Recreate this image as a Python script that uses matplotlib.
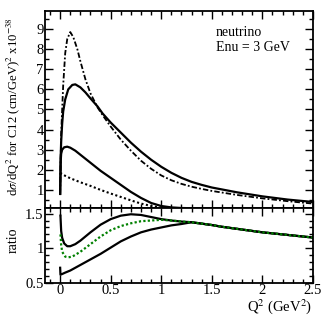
import numpy as np
import matplotlib
matplotlib.use('Agg')
import matplotlib.pyplot as plt
from matplotlib.ticker import MultipleLocator, FormatStrFormatter

plt.rcParams['font.family'] = ['Liberation Serif', 'DejaVu Serif']
plt.rcParams['mathtext.fontset'] = 'stix'

# top panel: d sigma / dQ2
q_dashdot = [0, 0.005, 0.01, 0.02, 0.03, 0.05, 0.07, 0.1, 0.13, 0.17, 0.2, 0.25, 0.3, 0.37,
             0.42, 0.5, 0.6, 0.7, 0.8, 0.9, 1.0, 1.1, 1.2, 1.3, 1.4, 1.5, 1.75, 2.0, 2.25, 2.5]
v_dashdot = [0.8, 2.5, 3.8, 5.0, 6.2, 7.8, 8.5, 8.85, 8.6, 8.0, 7.4, 6.5, 5.8, 5.1,
             4.72, 4.15, 3.5, 2.95, 2.45, 2.05, 1.72, 1.48, 1.3, 1.16, 1.05, 0.95, 0.75, 0.58,
             0.44, 0.32]

q_big = [0, 0.005, 0.01, 0.02, 0.03, 0.05, 0.08, 0.12, 0.15, 0.2, 0.25, 0.3, 0.37, 0.42,
         0.5, 0.6, 0.7, 0.8, 0.9, 1.0, 1.1, 1.2, 1.3, 1.4, 1.5, 1.75, 2.0, 2.25, 2.5]
v_big = [0.8, 2.6, 3.4, 4.3, 4.9, 5.5, 6.0, 6.22, 6.25, 6.1, 5.85, 5.55, 5.15, 4.8,
         4.35, 3.85, 3.35, 2.9, 2.5, 2.15, 1.85, 1.6, 1.4, 1.25, 1.12, 0.88, 0.68, 0.52, 0.4]

q_small = [0, 0.005, 0.01, 0.02, 0.04, 0.07, 0.1, 0.15, 0.2, 0.3, 0.4, 0.5, 0.6, 0.7,
           0.8, 0.9, 1.0, 1.1, 1.2, 1.4, 2.5]
v_small = [0.8, 2.4, 2.8, 3.0, 3.12, 3.15, 3.1, 2.95, 2.75, 2.35, 1.95, 1.6, 1.25, 0.9,
           0.6, 0.35, 0.2, 0.13, 0.1, 0.08, 0.06]

q_dot = [0, 0.05, 0.1, 0.2, 0.3, 0.4, 0.5, 0.6, 0.7, 0.8, 0.9, 1.0, 1.1, 1.3]
v_dot = [1.85, 1.7, 1.58, 1.38, 1.2, 1.0, 0.82, 0.65, 0.48, 0.32, 0.2, 0.12, 0.08, 0.05]

# bottom panel: ratios
q_tail = [1.3, 1.4, 1.5, 1.6, 1.7, 1.8, 1.9, 2.0, 2.1, 2.2, 2.3, 2.4, 2.5]
r_tail = [1.375, 1.355, 1.335, 1.31, 1.29, 1.27, 1.25, 1.23, 1.215, 1.2, 1.185, 1.17, 1.155]

q_hi = [0.003, 0.01, 0.02, 0.04, 0.07, 0.1, 0.15, 0.2, 0.3, 0.4, 0.5, 0.6, 0.7, 0.8,
        0.9, 1.0, 1.1, 1.2]
r_hi = [1.47, 1.25, 1.15, 1.07, 1.03, 1.03, 1.06, 1.11, 1.23, 1.34, 1.42, 1.47, 1.49, 1.48,
        1.45, 1.42, 1.40, 1.385]

q_mid = [0.003, 0.01, 0.02, 0.05, 0.08, 0.12, 0.2, 0.3, 0.4, 0.5, 0.6, 0.7, 0.8, 0.9,
         1.0, 1.1, 1.2]
r_mid = [1.2, 1.05, 0.95, 0.88, 0.87, 0.88, 0.95, 1.06, 1.17, 1.26, 1.32, 1.36, 1.39, 1.40,
         1.41, 1.40, 1.385]

q_lo = [0.0, 0.003, 0.02, 0.05, 0.1, 0.2, 0.3, 0.4, 0.5, 0.6, 0.7, 0.8, 0.9, 1.0,
        1.1, 1.2]
r_lo = [0.72, 0.62, 0.63, 0.65, 0.68, 0.76, 0.84, 0.92, 1.01, 1.1, 1.17, 1.23, 1.27, 1.3,
        1.33, 1.35]

green = '#008000'

fig = plt.figure(figsize=(3.32, 3.22), dpi=100)
ax1 = fig.add_axes([0.1355, 0.354, 0.807, 0.612])
ax2 = fig.add_axes([0.1355, 0.121, 0.807, 0.233])

ax1.plot(q_dashdot, v_dashdot, color='black', lw=1.3, dashes=(3, 1.2, 1, 1.2))
ax1.plot(q_big, v_big, color='black', lw=1.6)
ax1.plot(q_small, v_small, color='black', lw=1.6)
ax1.plot(q_dot, v_dot, color='black', lw=1.5, ls=(0, (1, 1.2)))

ax2.plot(q_hi + q_tail, r_hi + r_tail, color='black', lw=1.6)
ax2.plot(q_lo + q_tail, r_lo + r_tail, color='black', lw=1.6)
ax2.plot(q_mid + q_tail, r_mid + r_tail, color=green, lw=1.6, ls=(0, (1, 1)))

for ax in (ax1, ax2):
    ax.set_xlim(-0.15, 2.5)
    ax.xaxis.set_major_locator(MultipleLocator(0.5))
    ax.xaxis.set_minor_locator(MultipleLocator(0.1))
    ax.tick_params(which='both', direction='in', top=True, right=True, labelsize=10.5,
                   width=1, pad=1)
    ax.tick_params(which='major', length=6)
    ax.tick_params(which='minor', length=3)
    for s in ax.spines.values():
        s.set_linewidth(1.3)

ax1.set_ylim(0.1, 9.9)
ax1.yaxis.set_major_locator(MultipleLocator(1))
ax1.yaxis.set_minor_locator(MultipleLocator(0.5))
ax1.tick_params(labelbottom=False)

ax2.set_ylim(0.5, 1.58)
ax2.yaxis.set_major_locator(MultipleLocator(0.5))
ax2.yaxis.set_minor_locator(MultipleLocator(0.1))
ax2.xaxis.set_major_formatter(FormatStrFormatter('%g'))
ax2.yaxis.set_major_formatter(FormatStrFormatter('%g'))

ax1.text(1.54, 8.85, 'neutrino', fontsize=10, va='center')
ax1.text(1.54, 8.1, 'Enu = 3 GeV', fontsize=10, va='center')

fig.text(0.04, 0.668, r'd$\sigma$/dQ$^2$ for C12 (cm/GeV)$^2$ x10$^{-38}$',
         rotation=90, ha='center', va='center', fontsize=9.2)
fig.text(0.04, 1 - 240 / 322, 'ratio', rotation=90, ha='center', va='center', fontsize=10)
fig.text(0.94, 1 - 307 / 322, r'Q$^2$ (GeV$^2$)', ha='right', va='center', fontsize=10.5)

fig.savefig('out.png', dpi=100)
